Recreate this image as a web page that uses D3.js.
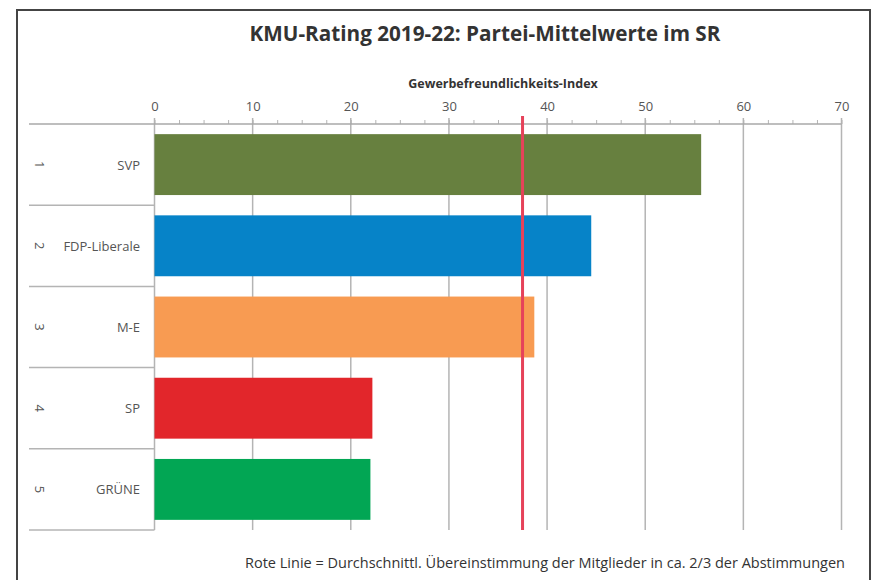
<!DOCTYPE html>
<html>
<head>
<meta charset="utf-8">
<script src="https://cdn.jsdelivr.net/npm/d3@7"></script>
<style>
  body { margin: 0; background: #fff; }
  text { font-family: "Open Sans", sans-serif; }
</style>
</head>
<body>
<svg id="chart"></svg>
<script>
const width = 888;
const height = 580;

const ranks = ['1', '2', '3', '4', '5'];
const parties = ['SVP', 'FDP-Liberale', 'M-E', 'SP', 'GRÜNE'];
const values = [55.7, 44.5, 38.7, 22.2, 22.0];
const colors = ['#67803f', '#0683c8', '#f89b52', '#e2262b', '#02a654'];
const average = 37.5;
const xTicks = [0, 10, 20, 30, 40, 50, 60, 70];

const svg = d3.select('#chart')
    .attr('width', width)
    .attr('height', height);

const plotLeft = 154.5, plotRight = 841.5, plotTop = 124, plotBottom = 530;

const x = d3.scaleLinear().domain([0, 70]).range([plotLeft, plotRight]);
const y = d3.scaleBand().domain(parties).range([plotTop, plotBottom])
    .paddingInner(0.25).paddingOuter(0.125);
const step = y.step();

// frame
svg.append('rect')
    .attr('x', 17).attr('y', 10)
    .attr('width', 853).attr('height', 600)
    .attr('fill', 'none')
    .attr('stroke', '#444')
    .attr('stroke-width', 2);

svg.append('text')
    .attr('x', 485).attr('y', 41)
    .attr('text-anchor', 'middle')
    .style('font-size', '20.7px')
    .style('font-weight', 'bold')
    .style('fill', '#333')
    .text('KMU-Rating 2019-22: Partei-Mittelwerte im SR');

svg.append('text')
    .attr('x', 503).attr('y', 88)
    .attr('text-anchor', 'middle')
    .style('font-size', '12.5px')
    .style('font-weight', 'bold')
    .style('fill', '#333')
    .text('Gewerbefreundlichkeits-Index');

// gridlines
svg.append('g').selectAll('line')
    .data(xTicks).enter().append('line')
    .attr('x1', d => x(d)).attr('x2', d => x(d))
    .attr('y1', plotTop - 6).attr('y2', plotBottom)
    .attr('stroke', '#b4b4b4')
    .attr('stroke-width', 1.5);

// axis on top with minor ticks
const axis = svg.append('g').attr('transform', `translate(0, ${plotTop})`);
axis.call(d3.axisTop(x).tickValues(d3.range(0, 70.1, 2.5)).tickSize(4).tickFormat(''));
axis.select('.domain').remove();
axis.selectAll('line').attr('stroke', '#b4b4b4');

const labels = svg.append('g').attr('transform', `translate(0, ${plotTop})`);
labels.call(d3.axisTop(x).tickValues(xTicks).tickSize(0).tickPadding(13));
labels.select('.domain').remove();
labels.selectAll('text')
    .style('font-size', '13px')
    .style('fill', '#555')
    .style('font-family', '"Open Sans", sans-serif');

svg.append('line')
    .attr('x1', 29).attr('x2', plotRight)
    .attr('y1', plotTop).attr('y2', plotTop)
    .attr('stroke', '#a8a8a8')
    .attr('stroke-width', 1.5);

// row separators of the label table
svg.append('g').selectAll('line')
    .data(parties).enter().append('line')
    .attr('x1', 29).attr('x2', plotLeft)
    .attr('y1', d => y(d) + y.bandwidth() + step * 0.125)
    .attr('y2', d => y(d) + y.bandwidth() + step * 0.125)
    .attr('stroke', '#b4b4b4')
    .attr('stroke-width', 1.5);

// bars
svg.append('g').selectAll('rect')
    .data(parties).enter().append('rect')
    .attr('x', x(0))
    .attr('y', d => y(d))
    .attr('width', (d, i) => x(values[i]) - x(0))
    .attr('height', y.bandwidth())
    .attr('fill', (d, i) => colors[i]);

// category labels
svg.append('g').selectAll('text')
    .data(parties).enter().append('text')
    .attr('x', 140)
    .attr('y', d => y(d) + y.bandwidth() / 2 + 5)
    .attr('text-anchor', 'end')
    .style('font-size', '13px')
    .style('fill', '#555')
    .text(d => d);

svg.append('g').selectAll('text')
    .data(ranks).enter().append('text')
    .attr('transform', (d, i) => `translate(35, ${y(parties[i]) + y.bandwidth() / 2}) rotate(90)`)
    .attr('text-anchor', 'middle')
    .style('font-size', '13px')
    .style('fill', '#555')
    .text(d => d);

// average line
svg.append('line')
    .attr('x1', x(average)).attr('x2', x(average))
    .attr('y1', plotTop - 8).attr('y2', plotBottom)
    .attr('stroke', '#e6425a')
    .attr('stroke-width', 3);

svg.append('text')
    .attr('x', 845).attr('y', 568)
    .attr('text-anchor', 'end')
    .style('font-size', '14.5px')
    .style('fill', '#333')
    .text('Rote Linie = Durchschnittl. Übereinstimmung der Mitglieder in ca. 2/3 der Abstimmungen');
</script>
</body>
</html>
